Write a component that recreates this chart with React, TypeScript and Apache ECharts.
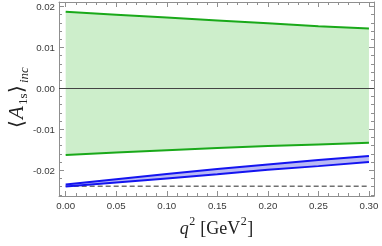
import React, { useEffect, useRef } from "react";
import * as echarts from "echarts";

const q2 = [0, 0.05, 0.1, 0.15, 0.2, 0.25, 0.3];
const greenUpper = [0.0187, 0.018, 0.0173, 0.0166, 0.0159, 0.0152, 0.0146];
const greenLower = [-0.0163, -0.0157, -0.0151, -0.0146, -0.0141, -0.0137, -0.0133];
const blueUpper = [-0.0235, -0.0222, -0.0209, -0.0197, -0.0186, -0.0175, -0.0165];
const blueLower = [-0.024, -0.023, -0.022, -0.021, -0.0199, -0.019, -0.018];
const baselineValue = -0.0239;

const xMajor = [0, 0.05, 0.1, 0.15, 0.2, 0.25, 0.3];
const xMinor = [0.01, 0.02, 0.03, 0.04, 0.06, 0.07, 0.08, 0.09, 0.11, 0.12, 0.13, 0.14, 0.16, 0.17, 0.18, 0.19, 0.21, 0.22, 0.23, 0.24, 0.26, 0.27, 0.28, 0.29];
const yMajor = [-0.02, -0.01, 0, 0.01, 0.02];
const yMinor = [-0.026, -0.024, -0.022, -0.018, -0.016, -0.014, -0.012, -0.008, -0.006, -0.004, -0.002, 0.002, 0.004, 0.006, 0.008, 0.012, 0.014, 0.016, 0.018];

const xMin = -0.0066, xMax = 0.305;
const yMin = -0.0263, yMax = 0.0211;

const FRAME = "#8f8f8f";
const LABEL = "#3a3a3a";

function makeAxis(kind: "x" | "y", pos: string, ticks: number[], len: number, labels: boolean, line: boolean, extra: any = {}) {
  return {
    type: "value",
    gridIndex: 0,
    position: pos,
    min: kind === "x" ? xMin : yMin,
    max: kind === "x" ? xMax : yMax,
    axisLine: { show: line, onZero: false, lineStyle: { color: FRAME, width: 1 } },
    axisTick: { show: true, inside: true, length: len, customValues: ticks, lineStyle: { color: FRAME, width: 1 } },
    axisLabel: {
      show: labels,
      customValues: ticks,
      color: LABEL,
      fontSize: 9.7,
      fontFamily: "Liberation Sans",
      margin: 4,
      formatter: (v: number) => (Math.abs(v) < 1e-9 ? "0.00" : v.toFixed(2)),
    },
    splitLine: { show: false },
    ...extra,
  };
}

function bandSeries(upper: number[], lower: number[], fill: string) {
  return {
    type: "custom",
    data: [[0, 0]],
    silent: true,
    renderItem: (params: any, api: any) => {
      const pts: number[][] = [];
      for (let i = 0; i < q2.length; i++) pts.push(api.coord([q2[i], upper[i]]));
      for (let i = q2.length - 1; i >= 0; i--) pts.push(api.coord([q2[i], lower[i]]));
      return { type: "polygon", shape: { points: pts }, style: { fill } };
    },
  };
}

function lineSeries(vals: number[], color: string, width: number) {
  return {
    type: "line",
    data: q2.map((x, i) => [x, vals[i]]),
    symbol: "none",
    silent: true,
    lineStyle: { color, width },
  };
}

export default function App() {
  const ref = useRef<HTMLDivElement>(null);
  useEffect(() => {
    document.body.style.margin = "0";
    const chart = echarts.init(ref.current!, null, { renderer: "svg" });
    const serif = "Liberation Serif";
    const option: any = {
      animation: false,
      grid: { left: 59, right: 8, top: 2, bottom: 50 },
      xAxis: [
        makeAxis("x", "bottom", xMajor, 5, true, true, {
          name: "{i|q}{s|2}{n| [GeV}{s|2}{n|]}",
          nameLocation: "middle",
          nameGap: 11,
          nameTextStyle: {
            rich: {
              i: { fontFamily: serif, fontStyle: "italic", fontSize: 18, color: "#222" },
              n: { fontFamily: serif, fontSize: 18, color: "#222" },
              s: { fontFamily: serif, fontSize: 12, color: "#222", padding: [0, 0.5, 14, 0.5] },
            },
          },
        }),
        makeAxis("x", "bottom", xMinor, 3, false, false),
        makeAxis("x", "top", xMajor, 5, false, true),
        makeAxis("x", "top", xMinor, 3, false, false),
      ],
      yAxis: [
        makeAxis("y", "left", yMajor, 5, true, true),
        makeAxis("y", "left", yMinor, 3, false, false),
        makeAxis("y", "right", yMajor, 5, false, true),
        makeAxis("y", "right", yMinor, 3, false, false),
      ],
      graphic: [
        {
          type: "group",
          x: 16,
          y: 128,
          rotation: Math.PI / 2,
          children: [
            { type: "text", x: 0, y: 0, style: { text: "⟨", font: "20px 'DejaVu Serif'", fill: "#222", verticalAlign: "middle" } },
            { type: "text", x: 9, y: 0, style: { text: "A", font: "italic 21px 'Liberation Serif'", fill: "#222", verticalAlign: "middle" } },
            { type: "text", x: 23, y: 6, style: { text: "1s", font: "13px 'Liberation Serif'", fill: "#222", verticalAlign: "middle" } },
            { type: "text", x: 35, y: 0, style: { text: "⟩", font: "20px 'DejaVu Serif'", fill: "#222", verticalAlign: "middle" } },
            { type: "text", x: 45, y: 7, style: { text: "inc", font: "italic 13px 'Liberation Serif'", fill: "#222", verticalAlign: "middle" } },
          ],
        },
      ],
      series: [
        bandSeries(greenUpper, greenLower, "#cdeecb"),
        bandSeries(blueUpper, blueLower, "#b9b9f4"),
        {
          type: "line",
          data: [[q2[0], baselineValue], [q2[q2.length - 1], baselineValue]],
          symbol: "none",
          silent: true,
          lineStyle: { color: "#707070", width: 1.4, type: [5, 3] },
        },
        lineSeries(greenUpper, "#1aa91a", 2),
        lineSeries(greenLower, "#1aa91a", 2),
        lineSeries(blueUpper, "#1414f0", 2),
        lineSeries(blueLower, "#1414f0", 2),
        {
          type: "line",
          data: [],
          symbol: "none",
          silent: true,
          markLine: {
            silent: true,
            symbol: "none",
            label: { show: false },
            lineStyle: { color: "#444", width: 1, type: "solid" },
            data: [{ yAxis: 0 }],
          },
        },
      ],
    };
    chart.setOption(option);
    return () => chart.dispose();
  }, []);
  return <div ref={ref} style={{ position: "fixed", left: 0, top: 0, width: 382, height: 246 }} />;
}
